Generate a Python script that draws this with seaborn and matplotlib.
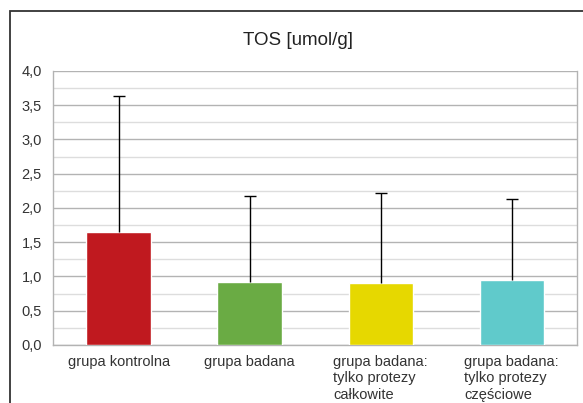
import seaborn as sns
import matplotlib.pyplot as plt
import matplotlib.patches as mpatches
import numpy as np
import pandas as pd

# values
groups = ['grupa kontrolna', 'grupa badana',
          'grupa badana:\ntylko protezy\ncałkowite',
          'grupa badana:\ntylko protezy\nczęściowe']
means = [1.65, 0.92, 0.90, 0.95]
errors = [1.98, 1.26, 1.32, 1.18]
colors = ['#C0191F', '#6AAB44', '#E6D800', '#60CACB']

sns.set_style('white')
plt.rcParams['font.family'] = ['Liberation Sans', 'DejaVu Sans']

df = pd.DataFrame({'group': groups, 'mean': means})

fig = plt.figure(figsize=(5.83, 4.03), dpi=100)
ax = fig.add_axes([0.091, 0.144, 0.899, 0.68])

sns.barplot(data=df, x='group', y='mean', hue='group', palette=colors,
            saturation=1, legend=False, width=0.49, ax=ax, zorder=3)

# upper-only error bars, cap only at the top
x = np.arange(len(groups))
tops = np.add(means, errors)
ax.errorbar(x, means, yerr=[np.zeros(len(errors)), errors], fmt='none',
            ecolor='black', elinewidth=1, capsize=0, zorder=4)
ax.plot(x, tops, linestyle='none', marker='_', markersize=8,
        markeredgewidth=1, color='black', zorder=4)

ax.set_ylim(0, 4)
ax.set_xlim(-0.5, len(groups) - 0.5)
major = np.arange(0, 4.01, 0.5)
ax.set_yticks(major)
ax.set_yticklabels([f'{v:.1f}'.replace('.', ',') for v in major], fontsize=10.5, color='#333333')
ax.set_yticks(np.arange(0.25, 4, 0.5), minor=True)
ax.grid(axis='y', which='major', color='#b3b3b3', linewidth=1, zorder=0)
ax.grid(axis='y', which='minor', color='#dddddd', linewidth=1, zorder=0)
ax.set_axisbelow(True)

ax.set_xticks(x)
ax.set_xticklabels(groups, fontsize=10.5, color='#333333', ha='center', va='top',
                   multialignment='left', linespacing=1.25)
ax.tick_params(axis='x', length=0, pad=7)
# category boundary ticks
ax.set_xticks(np.arange(-0.5, len(groups)), minor=True)
ax.tick_params(axis='x', which='minor', length=5, color='#b3b3b3', direction='out')
ax.tick_params(axis='y', which='major', length=5, color='#b3b3b3', direction='out', pad=3)
ax.tick_params(axis='y', which='minor', length=0)
ax.set_xlabel('')
ax.set_ylabel('')

ax.spines['top'].set_visible(False)
for s in ['left', 'bottom', 'right']:
    ax.spines[s].set_color('#b3b3b3')
    ax.spines[s].set_linewidth(1)

fig.text(0.511, 0.90, 'TOS [umol/g]', ha='center', va='center', fontsize=13.5, color='#222222')

# outer chart frame (runs off the right and bottom edges)
frame = mpatches.Rectangle((10 / 583, -0.1), 1.2, (403 - 11) / 403 + 0.1,
                           transform=fig.transFigure, fill=False,
                           edgecolor='#333333', linewidth=1.3)
fig.patches.append(frame)

fig.savefig('out.png', dpi=100)
